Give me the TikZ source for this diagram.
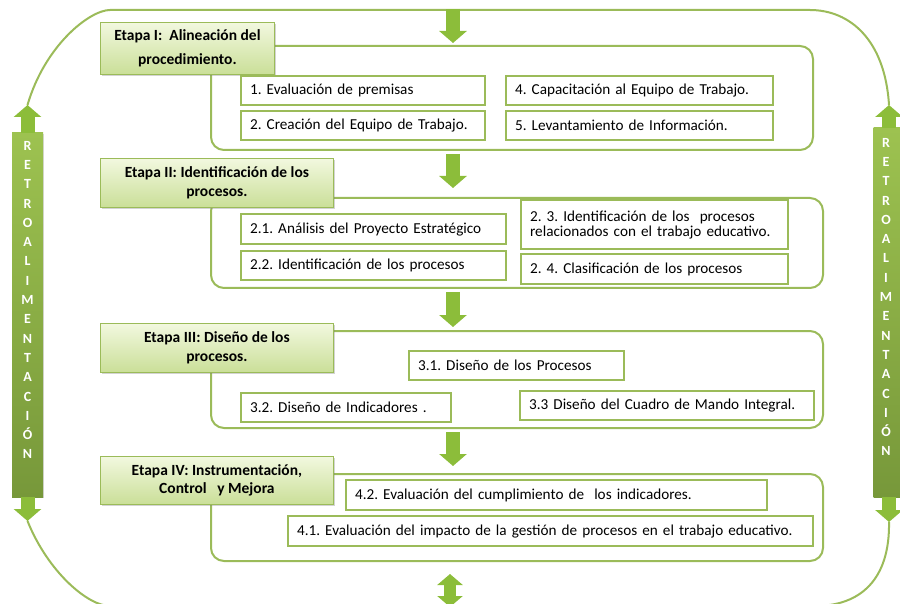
\documentclass[tikz,border=0pt]{standalone}
\usepackage{fontspec}
\setmainfont{Carlito}
\usetikzlibrary{arrows.meta,shadows,calc}
\definecolor{olv}{HTML}{9BBB59}
\definecolor{arw}{HTML}{8CBD3A}
\definecolor{hdtop}{HTML}{F2F8DF}
\definecolor{hdbot}{HTML}{CADF98}
\definecolor{bartop}{HTML}{9DC250}
\definecolor{barbot}{HTML}{77983A}
\frenchspacing
\begin{document}
\frenchspacing
\begin{tikzpicture}[x=1pt,y=-1pt,
  loopline/.style={draw=olv, line width=2pt},
  container/.style={draw=olv, line width=2pt, rounded corners=13pt, anchor=north west, inner sep=0pt},
  itembox/.style={draw=olv, line width=2.2pt, fill=white, anchor=north west, align=left,
    inner xsep=9pt, inner ysep=0pt, font=\fontsize{15.2}{15}\selectfont},
  header/.style={draw=olv, line width=0.8pt, top color=hdtop, bottom color=hdbot,
    anchor=north west, align=center, inner sep=0pt,
    font=\bfseries\fontsize{15.5}{18.5}\selectfont,
    drop shadow={shadow xshift=1.5pt, shadow yshift=-1.5pt, opacity=0.35}},
  sidebar/.style={top color=bartop, bottom color=barbot, draw=none, inner sep=0pt,
    drop shadow={shadow xshift=1pt, shadow yshift=-1pt, opacity=0.3}},
  sidetext/.style={text=white, align=center, inner sep=0pt,
    font=\bfseries\fontsize{14}{19.3}\selectfont},
  flow/.style={draw=arw, line width=14pt, -{Triangle[width=27pt,length=12pt]}},
  flowboth/.style={draw=arw, line width=12pt, {Triangle[width=25pt,length=11pt]}-{Triangle[width=25pt,length=11pt]}}
]
\useasboundingbox (0,0) rectangle (900,604);

% side bars
\node[sidebar, minimum width=31pt, minimum height=364pt] (lbar) at (27.5,315) {};
\node[sidetext] (ltext) at (27.5,300) {R\\E\\T\\R\\O\\A\\L\\I\\M\\E\\N\\T\\A\\C\\I\\Ó\\N};
\node[sidebar, minimum width=31pt, minimum height=369pt] (rbar) at (889,312.5) {};
\node[sidetext] (rtext) at (886,297) {R\\E\\T\\R\\O\\A\\L\\I\\M\\E\\N\\T\\A\\C\\I\\Ó\\N};

\coordinate (ltTip) at (27.5,105);
\coordinate (lbTip) at (27.5,521);
\coordinate (rtTip) at (889,105);
\coordinate (rbTip) at (889,522);

% outer feedback loop
\draw[loopline] (ltTip) .. controls (45,45) and (90,10) .. (110,10) -- (810,10)
  .. controls (850,10) and (885,40) .. (rtTip);
\draw[loopline] (lbTip) .. controls (48,572) and (88,606) .. (110,606) -- (815,606)
  .. controls (860,606) and (890,580) .. (rbTip);

\draw[flow] (lbar.north) -- (ltTip);
\draw[flow] (lbar.south) -- (lbTip);
\draw[flow] (rbar.north) -- (rtTip);
\draw[flow] (rbar.south) -- (rbTip);

% stage containers
\node[container, minimum width=602pt, minimum height=104pt] (c1) at (210,45) {};
\node[container, minimum width=612pt, minimum height=90pt] (c2) at (210,197) {};
\node[container, minimum width=612pt, minimum height=97pt] (c3) at (210,330) {};
\node[container, minimum width=612pt, minimum height=87pt] (c4) at (210,473) {};

% flow arrows
\coordinate (ax) at (453,0);
\coordinate (top) at (453,9);
\coordinate (bot) at (450,607);
\draw[flow] (top) -- ($(c1.north -| ax)+(0,-2)$);
\draw[flow] ($(c1.south -| ax)+(0,3)$) -- ($(c2.north -| ax)+(0,-9)$);
\draw[flow] ($(c2.south -| ax)+(0,3)$) -- ($(c3.north -| ax)+(0,-3)$);
\draw[flow] ($(c3.south -| ax)+(0,3)$) -- ($(c4.north -| ax)+(0,-7)$);
\draw[flowboth] ($(c4.south -| bot)+(0,12)$) -- (bot);

% headers
\node[header, minimum width=174pt, minimum height=52pt, font=\bfseries\fontsize{15.5}{24}\selectfont] (h1) at (100,22)
  {Etapa I:\ \ Alineación del\\procedimiento.};
\node[header, minimum width=233pt, minimum height=49pt] (h2) at (100,158)
  {Etapa II: Identificación de los\\procesos.};
\node[header, minimum width=233pt, minimum height=49pt] (h3) at (100,323)
  {Etapa III: Diseño de los\\procesos.};
\node[header, minimum width=233pt, minimum height=48pt] (h4) at (100,456)
  {Etapa IV: Instrumentación,\\Control\ \ \ y Mejora};

% stage I items
\node[itembox, text width=226pt, minimum height=29pt] (i1) at (240,75) {1. Evaluación de premisas};
\node[itembox, text width=226pt, minimum height=29pt] (i2) at (240,110) {2. Creación del Equipo de Trabajo.};
\node[itembox, text width=249pt, minimum height=29pt] (i4) at (505,75) {4. Capacitación al Equipo de Trabajo.};
\node[itembox, text width=249pt, minimum height=29pt] (i5) at (505,110) {5. Levantamiento de Información.};

% stage II items
\node[itembox, text width=247pt, minimum height=30pt] (i21) at (240,213) {2.1. Análisis del Proyecto Estratégico};
\node[itembox, text width=247pt, minimum height=29pt] (i22) at (240,250) {2.2. Identificación de los procesos};
\node[itembox, text width=249pt, minimum height=49pt] (i23) at (520,199) {2. 3. Identificación de los\ \ procesos\\relacionados con el trabajo educativo.};
\node[itembox, text width=249pt, minimum height=30pt] (i24) at (520,253) {2. 4. Clasificación de los procesos};

% stage III items
\node[itembox, text width=197pt, minimum height=29pt] (i31) at (408,350) {3.1. Diseño de los Procesos};
\node[itembox, text width=192pt, minimum height=29pt] (i32) at (240,392) {3.2. Diseño de Indicadores .};
\node[itembox, text width=276pt, minimum height=29pt] (i33) at (519,390) {3.3 Diseño del Cuadro de Mando Integral.};

% stage IV items
\node[itembox, text width=403pt, minimum height=30pt] (i42) at (345,479) {4.2. Evaluación del cumplimiento de\ \ los indicadores.};
\node[itembox, text width=507pt, minimum height=30pt] (i41) at (287,515) {4.1. Evaluación del impacto de la gestión de procesos en el trabajo educativo.};
\end{tikzpicture}
\end{document}
